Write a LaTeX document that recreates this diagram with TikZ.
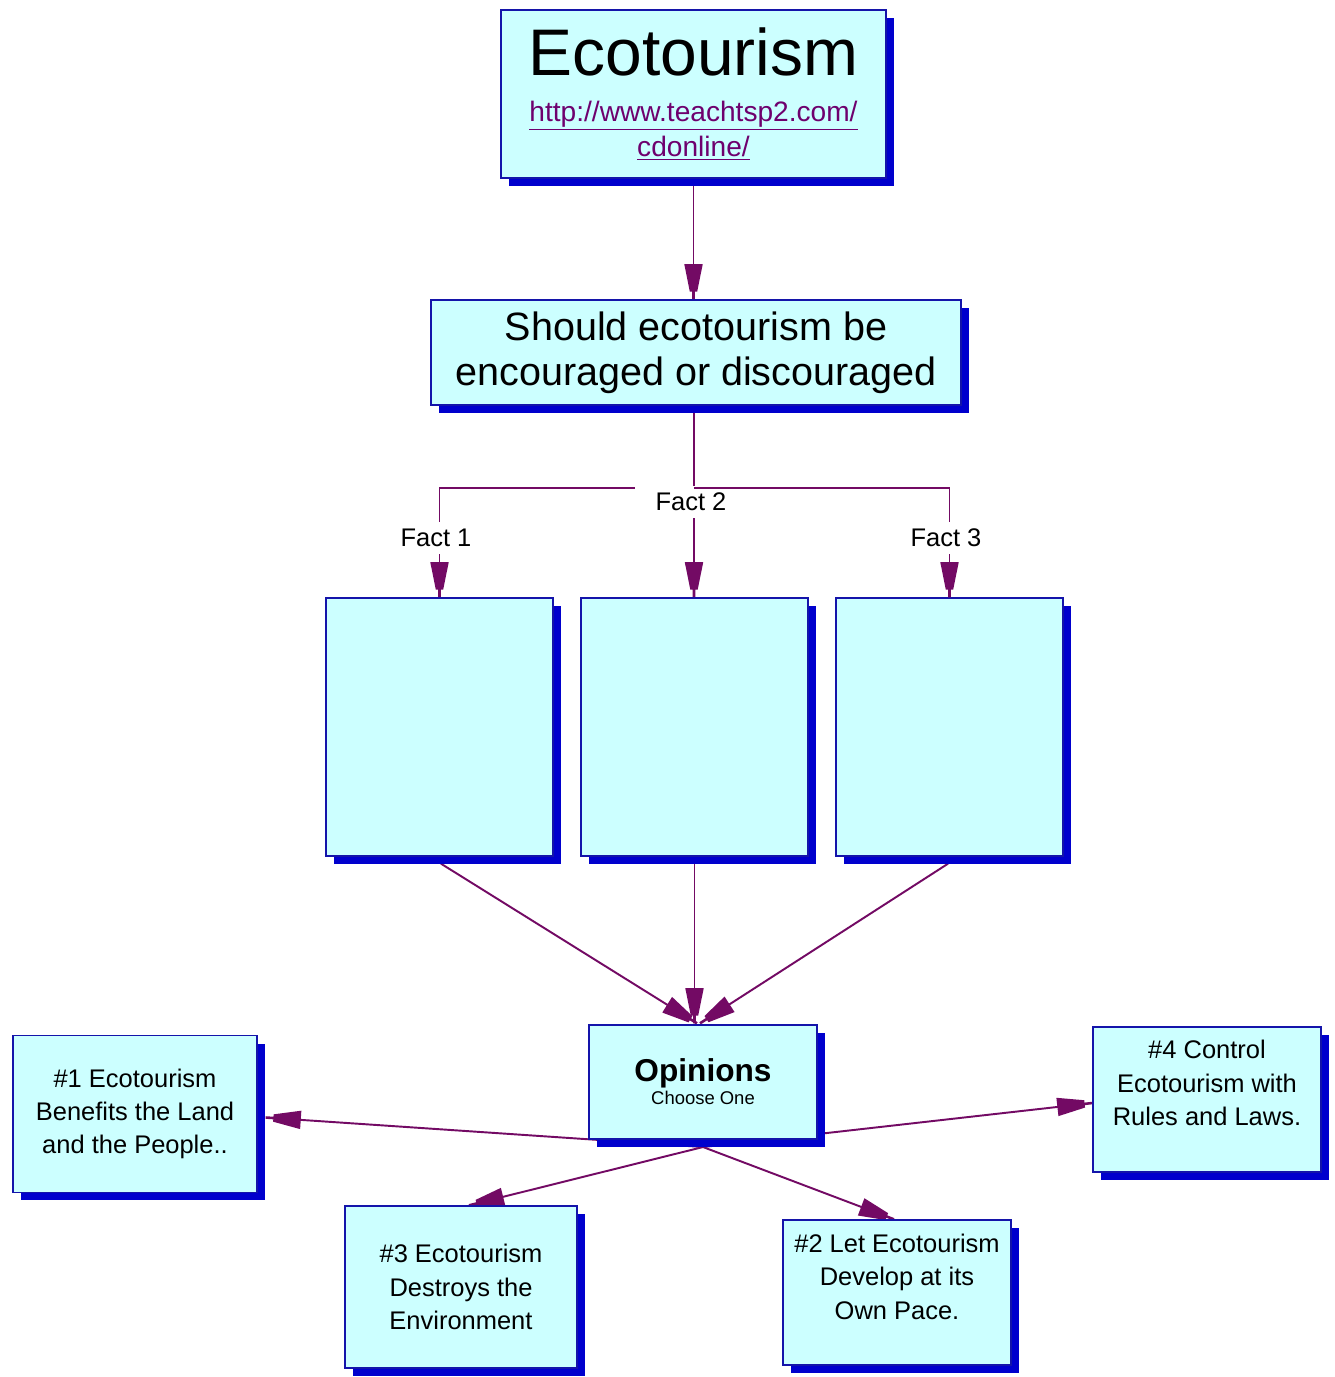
\documentclass[tikz,border=0pt]{standalone}
\usepackage{fontspec}
\setmainfont{Liberation Sans}
\usetikzlibrary{arrows.meta,shadows,calc,backgrounds}
\pgfdeclarearrow{
  name = Trap,
  parameters = {\the\pgfarrowlength,\the\pgfarrowwidth},
  setup code = {
    \pgfarrowssettipend{\pgfarrowlength}
    \pgfarrowssetbackend{0pt}
    \pgfarrowssetlineend{0.5\pgfarrowlength}
    \pgfarrowssavethe\pgfarrowlength
    \pgfarrowssavethe\pgfarrowwidth
  },
  drawing code = {
    \pgfpathmoveto{\pgfqpoint{0pt}{0.5\pgfarrowwidth}}
    \pgfpathlineto{\pgfqpoint{0.78\pgfarrowlength}{0.2\pgfarrowwidth}}
    \pgfpathlineto{\pgfqpoint{0.78\pgfarrowlength}{0.07\pgfarrowwidth}}
    \pgfpathlineto{\pgfqpoint{\pgfarrowlength}{0.07\pgfarrowwidth}}
    \pgfpathlineto{\pgfqpoint{\pgfarrowlength}{-0.07\pgfarrowwidth}}
    \pgfpathlineto{\pgfqpoint{0.78\pgfarrowlength}{-0.07\pgfarrowwidth}}
    \pgfpathlineto{\pgfqpoint{0.78\pgfarrowlength}{-0.2\pgfarrowwidth}}
    \pgfpathlineto{\pgfqpoint{0pt}{-0.5\pgfarrowwidth}}
    \pgfpathclose
    \pgfusepathqfill
  },
  defaults = {length=20pt, width=10.5pt}
}
\definecolor{boxfill}{RGB}{204,255,255}
\definecolor{boxline}{RGB}{20,20,170}
\definecolor{shade}{RGB}{0,0,205}
\definecolor{connc}{RGB}{115,10,100}
\definecolor{linkc}{RGB}{110,0,110}
\begin{document}
\begin{tikzpicture}[x=0.02cm, y=-0.02cm,
  box/.style={draw=boxline, line width=0.8pt, fill=boxfill, align=center, inner sep=0pt,
    drop shadow={shadow xshift=0.16cm, shadow yshift=-0.16cm, fill=shade, opacity=1}},
  boxtext/.style={font=\fontsize{14.5}{19}\selectfont},
  conn/.style={color=connc, line width=1.1pt, -{Trap[length=20pt,width=10.5pt]}},
  factlabel/.style={fill=white, inner xsep=3pt, inner ysep=4pt, font=\fontsize{14.5}{17}\selectfont}
]
\useasboundingbox (0,0) rectangle (1335,1377);

% boxes
\node[box, minimum width=7.7cm, minimum height=3.36cm, font=\fontsize{16}{20}\selectfont] (top) at (693.5,94)
  {{\fontsize{37.5}{40}\selectfont Ecotourism}\\[6pt]
   {\color{linkc}\underline{http://www.teachtsp2.com/}}\\
   {\color{linkc}\underline{cdonline/}}};
\node[box, minimum width=10.6cm, minimum height=2.1cm, font=\fontsize{22.5}{25.5}\selectfont] (q) at (696,352.5)
  {Should ecotourism be\\encouraged or discouraged};
\node[box, minimum width=4.54cm, minimum height=5.16cm] (f1) at (439.5,727) {};
\node[box, minimum width=4.54cm, minimum height=5.16cm] (f2) at (694.5,727) {};
\node[box, minimum width=4.54cm, minimum height=5.16cm] (f3) at (949.5,727) {};
\node[box, minimum width=4.56cm, minimum height=2.28cm, font=\fontsize{10.5}{13}\selectfont] (op) at (703,1082)
  {{\bfseries\fontsize{18}{20}\selectfont Opinions}\\Choose One};
\node[box, boxtext, minimum width=4.88cm, minimum height=3.14cm] (b1) at (135,1114)
  {\#1 Ecotourism\\Benefits the Land\\and the People..};
\node[box, boxtext, minimum width=4.56cm, minimum height=2.9cm, text depth=19pt] (b4) at (1207,1099.5)
  {\#4 Control\\Ecotourism with\\Rules and Laws.};
\node[box, boxtext, minimum width=4.64cm, minimum height=3.24cm] (b3) at (461,1287)
  {\#3 Ecotourism\\Destroys the\\Environment};
\node[box, boxtext, minimum width=4.56cm, minimum height=2.9cm, text depth=18pt] (b2) at (897,1292.5)
  {\#2 Let Ecotourism\\Develop at its\\Own Pace.};

\coordinate (jn) at (694,488);
\coordinate (hub) at (703,1147);

\begin{scope}[on background layer]
  \fill[white] (0,0) rectangle (1335,1377);
  \draw[conn] (top.south) -- (top.south |- q.north);
  \draw[color=connc, line width=1.1pt] (q.south -| jn) -- (jn);
  \draw[conn] (jn) -| (f1.north);
  \draw[conn] (jn) -- (jn |- f2.north);
  \draw[conn] ($(f1.south)+(1.5,7)$) -- ($(op.north)+(-6,-1)$);
  \draw[conn] ($(f2.south)+(0,7)$) -- ($(f2.south |- op.north)+(0,-1)$);
  \draw[conn] ($(f3.south)+(-1.5,7)$) -- ($(op.north)+(-3,-1)$);
  \draw[conn] (hub) -- ($(b1.east)+(8,3.5)$);
  \draw[conn] (hub) -- ($(b4.west)+(0,3.5)$);
  \draw[conn] (hub) -- ($(b3.north)+(8,0)$);
  \draw[conn] (hub) -- ($(b2.north)+(-3,0)$);
\end{scope}

\node[factlabel] (l1) at (436,538) {Fact 1};
\node[factlabel, inner xsep=12pt, minimum height=0.6cm] (l2) at (691,502) {Fact 2};
\draw[conn] (jn) -| (f3.north);
\node[factlabel] (l3) at (946,538) {Fact 3};
\end{tikzpicture}
\end{document}
